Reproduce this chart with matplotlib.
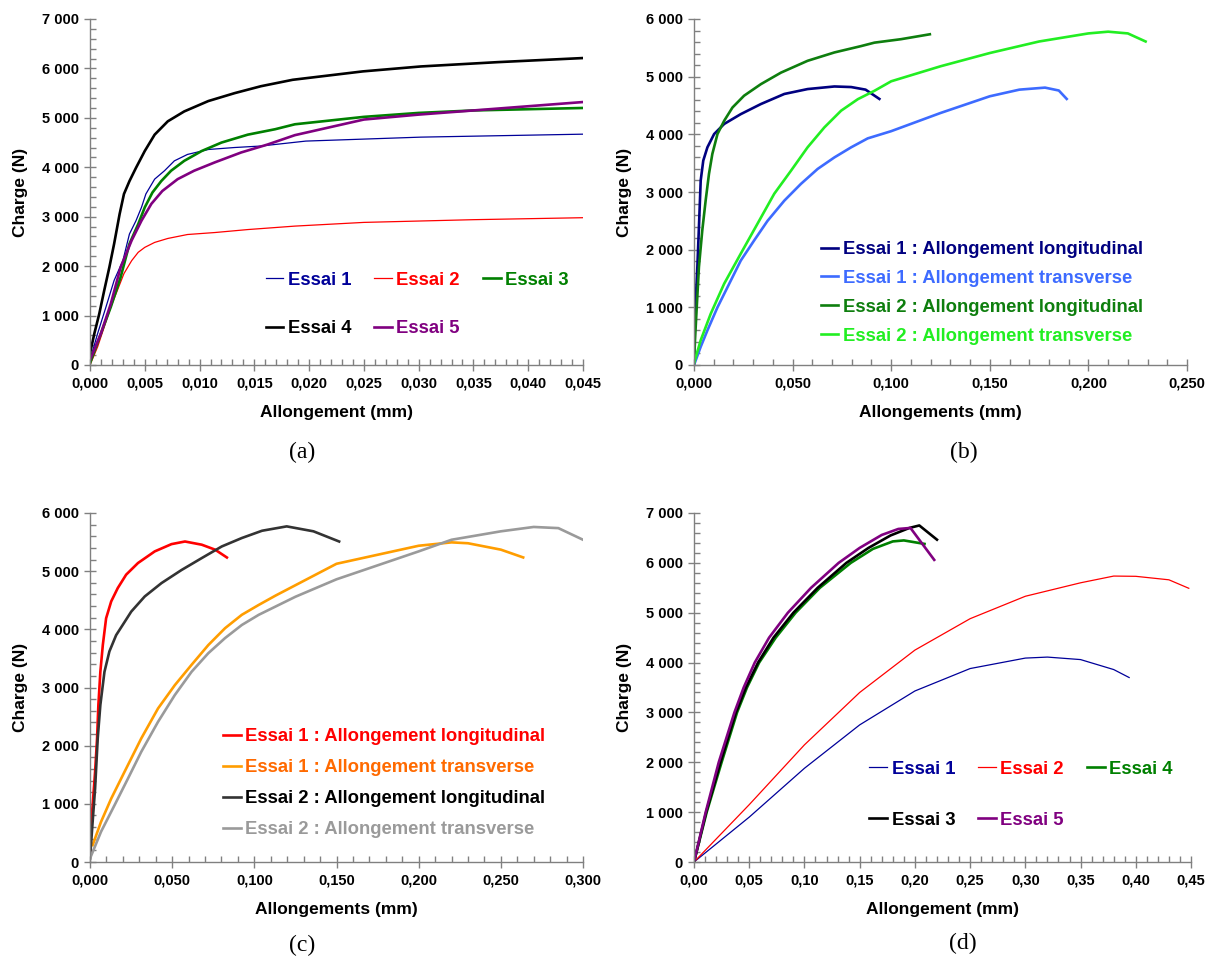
import matplotlib
matplotlib.use('Agg')
import matplotlib.pyplot as plt
from matplotlib.ticker import MultipleLocator, FuncFormatter

plt.rcParams['font.family'] = ['Liberation Sans', 'DejaVu Sans']
plt.rcParams['font.weight'] = 'bold'

# ---- (a) Allongement longitudinal, 5 essais ----
a1_x = [0, 0.0007, 0.00146, 0.0022, 0.003, 0.0036, 0.0042, 0.0047, 0.0051, 0.0059, 0.0068, 0.0077,
        0.0089, 0.0108, 0.0132, 0.0156, 0.0197, 0.0302, 0.045]
a1_y = [100, 640, 1175, 1710, 2110, 2650, 2920, 3190, 3460, 3760, 3930, 4130,
        4260, 4360, 4400, 4430, 4530, 4610, 4670]
a2_x = [0, 0.0007, 0.0013, 0.0019, 0.0025, 0.0031, 0.0038, 0.0044, 0.005, 0.0059, 0.0071, 0.0089,
        0.0114, 0.0144, 0.0187, 0.025, 0.035, 0.045]
a2_y = [0, 370, 770, 1175, 1510, 1850, 2110, 2280, 2380, 2480, 2560, 2640,
        2680, 2740, 2810, 2885, 2940, 2980]
a3_x = [0, 0.001, 0.0019, 0.0028, 0.0036, 0.0044, 0.005, 0.0057, 0.0065, 0.0074, 0.0086, 0.0102,
        0.012, 0.0144, 0.0169, 0.0187, 0.025, 0.03, 0.035, 0.045]
a3_y = [35, 640, 1175, 1780, 2450, 2850, 3190, 3490, 3720, 3930, 4130, 4330,
        4500, 4660, 4770, 4870, 5020, 5100, 5150, 5200]
a4_x = [0, 0.0004, 0.00085, 0.0013, 0.00177, 0.0022, 0.0027, 0.0031, 0.0036, 0.0042, 0.005, 0.0059,
        0.0071, 0.0086, 0.0108, 0.0132, 0.0156, 0.0185, 0.0249, 0.0302, 0.0372, 0.045]
a4_y = [235, 640, 1040, 1510, 1980, 2450, 3050, 3460, 3720, 3990, 4330, 4660,
        4930, 5130, 5340, 5500, 5640, 5770, 5940, 6040, 6127, 6210]
a5_x = [0, 0.001, 0.0019, 0.0028, 0.0038, 0.0047, 0.0056, 0.0066, 0.008, 0.0095, 0.0114, 0.0138,
        0.0162, 0.0187, 0.025, 0.03, 0.035, 0.045]
a5_y = [100, 640, 1240, 1980, 2520, 2920, 3260, 3520, 3760, 3930, 4100, 4300,
        4460, 4650, 4966, 5066, 5150, 5320]

# ---- (b) ----
b1l_x = [0, 0.0003, 0.0008, 0.0017, 0.0025, 0.0034, 0.0047, 0.0068, 0.0102, 0.0153, 0.0237, 0.0339,
         0.0458, 0.0576, 0.0712, 0.0797, 0.087, 0.094]
b1l_y = [30, 550, 1070, 1700, 2390, 3200, 3545, 3775, 4005, 4180, 4350, 4525,
         4700, 4785, 4830, 4820, 4775, 4614]
b1t_x = [0, 0.0034, 0.0068, 0.0119, 0.017, 0.0237, 0.0305, 0.0373, 0.0458, 0.0542, 0.0627, 0.0712,
         0.0797, 0.0881, 0.1, 0.125, 0.15, 0.165, 0.178, 0.185, 0.189]
b1t_y = [0, 316, 600, 1000, 1350, 1810, 2160, 2500, 2850, 3140, 3400, 3600,
         3775, 3930, 4055, 4370, 4660, 4775, 4810, 4760, 4614]
b2l_x = [0, 0.0005, 0.0014, 0.0025, 0.0042, 0.0059, 0.0076, 0.0093, 0.0119, 0.0153, 0.0195, 0.0254,
         0.0339, 0.0441, 0.0576, 0.0712, 0.0847, 0.0915, 0.105, 0.1196]
b2l_y = [30, 430, 1010, 1700, 2335, 2850, 3315, 3660, 4005, 4235, 4465, 4670,
         4870, 5070, 5275, 5420, 5530, 5590, 5650, 5735]
b2t_x = [0, 0.0034, 0.0085, 0.0153, 0.0237, 0.0322, 0.0407, 0.0492, 0.0576, 0.0661, 0.0746, 0.0831,
         0.0915, 0.1, 0.125, 0.15, 0.175, 0.2, 0.21, 0.22, 0.229]
b2t_y = [30, 430, 890, 1410, 1930, 2450, 2970, 3370, 3775, 4120, 4410, 4610,
         4755, 4920, 5180, 5410, 5610, 5750, 5780, 5750, 5610]

# ---- (c) ----
c1l_x = [0, 0.0006, 0.0016, 0.0031, 0.0043, 0.0051, 0.0063, 0.0078, 0.0098, 0.0129, 0.0169, 0.022,
         0.0292, 0.0394, 0.0496, 0.0578, 0.068, 0.0761, 0.0833]
c1l_y = [100, 630, 975, 1550, 2125, 2700, 3270, 3730, 4190, 4480, 4710, 4940,
         5140, 5340, 5465, 5510, 5455, 5370, 5235]
c1t_x = [0.0016, 0.0067, 0.0129, 0.021, 0.0312, 0.0414, 0.0516, 0.0618, 0.072, 0.0822, 0.0924, 0.1027,
         0.1129, 0.15, 0.2, 0.22, 0.23, 0.25, 0.2636]
c1t_y = [290, 690, 1090, 1550, 2125, 2640, 3040, 3390, 3730, 4020, 4250, 4420,
         4580, 5127, 5437, 5495, 5480, 5370, 5236]
c2l_x = [0, 0.0016, 0.0031, 0.0047, 0.0063, 0.0088, 0.0118, 0.0159, 0.02, 0.0251, 0.0333, 0.0435,
         0.0557, 0.068, 0.0802, 0.0924, 0.1047, 0.1197, 0.136, 0.1516]
c2l_y = [60, 690, 1265, 2125, 2700, 3270, 3620, 3900, 4080, 4305, 4565, 4795,
         5020, 5225, 5425, 5570, 5695, 5770, 5685, 5510]
c2t_x = [0, 0.0067, 0.0149, 0.0231, 0.0312, 0.0414, 0.0516, 0.0618, 0.072, 0.0822, 0.0924, 0.1027,
         0.125, 0.15, 0.2, 0.22, 0.25, 0.27, 0.285, 0.3]
c2t_y = [60, 520, 975, 1435, 1895, 2410, 2870, 3270, 3590, 3850, 4075, 4250,
         4560, 4860, 5340, 5540, 5685, 5760, 5740, 5540]

# ---- (d) ----
d1_x = [0, 0.05, 0.1, 0.15, 0.2, 0.25, 0.3, 0.32, 0.35, 0.38, 0.394]
d1_y = [0, 900, 1880, 2750, 3430, 3880, 4090, 4110, 4060, 3860, 3700]
d2_x = [0, 0.05, 0.1, 0.15, 0.2, 0.25, 0.3, 0.35, 0.38, 0.4, 0.43, 0.448]
d2_y = [0, 1150, 2350, 3400, 4250, 4880, 5330, 5600, 5735, 5730, 5660, 5490]
d3_x = [0, 0.011, 0.024, 0.038, 0.047, 0.058, 0.072, 0.09, 0.112, 0.138, 0.158, 0.178, 0.195, 0.204, 0.22]
d3_y = [0, 1000, 2000, 3000, 3500, 4000, 4500, 5000, 5500, 6000, 6300, 6550, 6700, 6750, 6465]
d4_x = [0, 0.0115, 0.025, 0.039, 0.048, 0.059, 0.074, 0.092, 0.114, 0.142, 0.162, 0.18, 0.19, 0.2087]
d4_y = [0, 1000, 2000, 3000, 3500, 4000, 4500, 5000, 5500, 6000, 6280, 6430, 6450, 6380]
d5_x = [0, 0.0106, 0.0224, 0.0366, 0.045, 0.055, 0.068, 0.085, 0.106, 0.131, 0.15, 0.17, 0.185, 0.196, 0.2175]
d5_y = [0, 1000, 2000, 3000, 3500, 4000, 4500, 5000, 5500, 6000, 6300, 6560, 6680, 6700, 6060]

THICK = 1.9
THIN = 0.9
AXCOL = '#808080'


def fmt_thousands(v, pos):
    v = int(round(v))
    return f'{v:,}'.replace(',', ' ')


def style(ax, xmax, xmaj, xmin, ymax, ndec, xlabel):
    ax.set_xlim(0, xmax)
    ax.set_ylim(0, ymax)
    for s in ['top', 'right']:
        ax.spines[s].set_visible(False)
    for s in ['left', 'bottom']:
        ax.spines[s].set_color(AXCOL)
        ax.spines[s].set_linewidth(1.0)
    ax.xaxis.set_major_locator(MultipleLocator(xmaj))
    ax.xaxis.set_minor_locator(MultipleLocator(xmin))
    ax.yaxis.set_major_locator(MultipleLocator(1000))
    ax.yaxis.set_minor_locator(MultipleLocator(200))
    ax.xaxis.set_major_formatter(FuncFormatter(lambda v, p: f'{v:.{ndec}f}'.replace('.', ',')))
    ax.yaxis.set_major_formatter(FuncFormatter(fmt_thousands))
    ax.tick_params(which='major', direction='inout', length=8, width=1, color=AXCOL,
                   labelsize=10.5, pad=4)
    ax.tick_params(which='minor', direction='in', length=4, width=1, color=AXCOL)
    for lab in ax.get_xticklabels() + ax.get_yticklabels():
        lab.set_fontweight('bold')
    ax.set_xlabel(xlabel, fontsize=12.5, fontweight='bold')
    ax.set_ylabel('Charge (N)', fontsize=12.5, fontweight='bold')
    ax.xaxis.set_label_coords(0.5, -0.115)
    ax.yaxis.set_label_coords(-0.125, 0.5)


def legend(ax, handles, anchor, ncol, spacing, textcolors, colspace=1.3):
    leg = ax.legend(handles=handles, loc='upper left', bbox_to_anchor=anchor, ncol=ncol,
                    frameon=False, borderpad=0, borderaxespad=0, handlelength=0.95,
                    handletextpad=0.25, labelspacing=spacing, columnspacing=colspace,
                    prop={'weight': 'bold', 'size': 13.3})
    for t, c in zip(leg.get_texts(), textcolors):
        t.set_color(c)
    return leg


fig = plt.figure(figsize=(12.15, 9.6), dpi=100)
W, H = 1215, 960
ax_a = fig.add_axes([90 / W, (H - 365) / H, 493 / W, 346 / H])
ax_b = fig.add_axes([694 / W, (H - 365) / H, 493 / W, 346 / H])
ax_c = fig.add_axes([90 / W, (H - 862) / H, 493 / W, 349 / H])
ax_d = fig.add_axes([694 / W, (H - 862) / H, 497 / W, 349 / H])

# (a)
l1, = ax_a.plot(a1_x, a1_y, color='#000099', lw=THIN, label='Essai 1')
l2, = ax_a.plot(a2_x, a2_y, color='#FF0000', lw=THIN, label='Essai 2')
l3, = ax_a.plot(a3_x, a3_y, color='#008000', lw=THICK, label='Essai 3')
l5, = ax_a.plot(a5_x, a5_y, color='#800080', lw=THICK, label='Essai 5')
l4, = ax_a.plot(a4_x, a4_y, color='#000000', lw=THICK, label='Essai 4')
style(ax_a, 0.045, 0.005, 0.001, 7000, 3, 'Allongement (mm)')
legend(ax_a, [l1, l4, l2, l5, l3], (0.356, 0.27), 3, 1.7,
       ['#000099', '#000000', '#FF0000', '#800080', '#008000'], colspace=1.25)

# (b)
m1, = ax_b.plot(b1l_x, b1l_y, color='#000080', lw=THICK, label='Essai 1 : Allongement longitudinal')
m2, = ax_b.plot(b1t_x, b1t_y, color='#3D6BFF', lw=THICK, label='Essai 1 : Allongement transverse')
m3, = ax_b.plot(b2l_x, b2l_y, color='#0E7E0E', lw=THICK, label='Essai 2 : Allongement longitudinal')
m4, = ax_b.plot(b2t_x, b2t_y, color='#22EE22', lw=THICK, label='Essai 2 : Allongement transverse')
style(ax_b, 0.25, 0.05, 0.01, 6000, 3, 'Allongements (mm)')
legend(ax_b, [m1, m2, m3, m4], (0.257, 0.358), 1, 0.64,
       ['#000080', '#3D6BFF', '#0E7E0E', '#22EE22'])

# (c)
n1, = ax_c.plot(c1l_x, c1l_y, color='#FF0000', lw=THICK, label='Essai 1 : Allongement longitudinal')
n2, = ax_c.plot(c1t_x, c1t_y, color='#FF9D00', lw=THICK, label='Essai 1 : Allongement transverse')
n3, = ax_c.plot(c2l_x, c2l_y, color='#333333', lw=THICK, label='Essai 2 : Allongement longitudinal')
n4, = ax_c.plot(c2t_x, c2t_y, color='#9A9A9A', lw=THICK, label='Essai 2 : Allongement transverse')
style(ax_c, 0.3, 0.05, 0.01, 6000, 3, 'Allongements (mm)')
legend(ax_c, [n1, n2, n3, n4], (0.27, 0.384), 1, 0.76,
       ['#FF0000', '#FF6A00', '#000000', '#9A9A9A'])

# (d)
p1, = ax_d.plot(d1_x, d1_y, color='#000099', lw=THIN, label='Essai 1')
p2, = ax_d.plot(d2_x, d2_y, color='#FF0000', lw=THIN, label='Essai 2')
p4, = ax_d.plot(d4_x, d4_y, color='#008000', lw=THICK, label='Essai 4')
p3, = ax_d.plot(d3_x, d3_y, color='#000000', lw=THICK, label='Essai 3')
p5, = ax_d.plot(d5_x, d5_y, color='#800080', lw=THICK, label='Essai 5')
style(ax_d, 0.45, 0.05, 0.01, 7000, 2, 'Allongement (mm)')
legend(ax_d, [p1, p3, p2, p5, p4], (0.353, 0.29), 3, 1.85,
       ['#000099', '#000000', '#FF0000', '#800080', '#008000'], colspace=1.25)

# panel letters
for lab, (x, y) in zip(['(a)', '(b)', '(c)', '(d)'],
                       [(302, 452), (964, 452), (302, 945), (963, 943)]):
    fig.text(x / W, 1 - y / H, lab, ha='center', va='center', fontsize=17,
             fontweight='normal', family=['Liberation Serif', 'DejaVu Serif'])

fig.savefig('out.png', dpi=100)
